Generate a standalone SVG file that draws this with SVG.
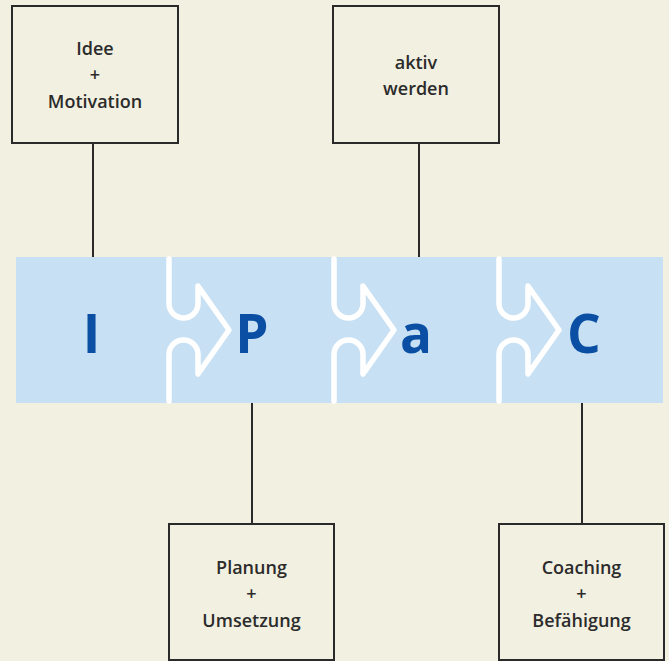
<svg xmlns="http://www.w3.org/2000/svg" width="669" height="661" viewBox="0 0 669 661">
<style>
.box{fill:#f2f0e1;stroke:#2a2a2a;stroke-width:2}
.t{font-family:"Open Sans","Noto Sans",sans-serif;font-weight:600;font-size:18px;fill:#2b2b2b;text-anchor:middle}
.big{font-family:"Open Sans","Noto Sans",sans-serif;font-weight:700;font-size:53px;fill:#0a4fa3;text-anchor:middle}
.con{stroke:#2a2a2a;stroke-width:2;fill:none}
.chev{stroke:#ffffff;stroke-width:5.5;fill:none;stroke-linejoin:round;stroke-linecap:round}
</style>
<defs>
<path id="chev" class="chev" d="M0,259 V303.5 A14.5,14.5 0 0 0 29,303.5 V286 L60,330 L29,374 V354.5 A14.5,14.5 0 0 0 0,354.5 V401"/>
</defs>
<rect width="669" height="661" fill="#f2f0e1"/>
<g id="band">
<rect x="16" y="257" width="647" height="146" fill="#c8e0f3"/>
<use href="#chev" x="169"/>
<use href="#chev" x="334"/>
<use href="#chev" x="499"/>
<text class="big" x="91.5" y="353">I</text>
<text class="big" x="252" y="353">P</text>
<text class="big" x="416" y="353">a</text>
<text class="big" x="584" y="353">C</text>
</g>
<g id="connectors">
<line class="con" x1="93" y1="143" x2="93" y2="257"/>
<line class="con" x1="419" y1="143" x2="419" y2="257"/>
<line class="con" x1="252" y1="403" x2="252" y2="524"/>
<line class="con" x1="582" y1="403" x2="582" y2="524"/>
</g>
<g id="node-idee">
<rect class="box" x="12" y="6" width="166" height="137"/>
<text class="t" x="95" y="55">Idee</text>
<text class="t" x="95" y="81">+</text>
<text class="t" x="95" y="108">Motivation</text>
</g>
<g id="node-aktiv">
<rect class="box" x="333" y="6" width="166" height="137"/>
<text class="t" x="416" y="69">aktiv</text>
<text class="t" x="416" y="95">werden</text>
</g>
<g id="node-planung">
<rect class="box" x="169" y="524" width="165" height="136"/>
<text class="t" x="251.5" y="574">Planung</text>
<text class="t" x="251.5" y="600">+</text>
<text class="t" x="251.5" y="627">Umsetzung</text>
</g>
<g id="node-coaching">
<rect class="box" x="499" y="524" width="165" height="136"/>
<text class="t" x="581.5" y="574">Coaching</text>
<text class="t" x="581.5" y="600">+</text>
<text class="t" x="581.5" y="627">Befähigung</text>
</g>
</svg>
